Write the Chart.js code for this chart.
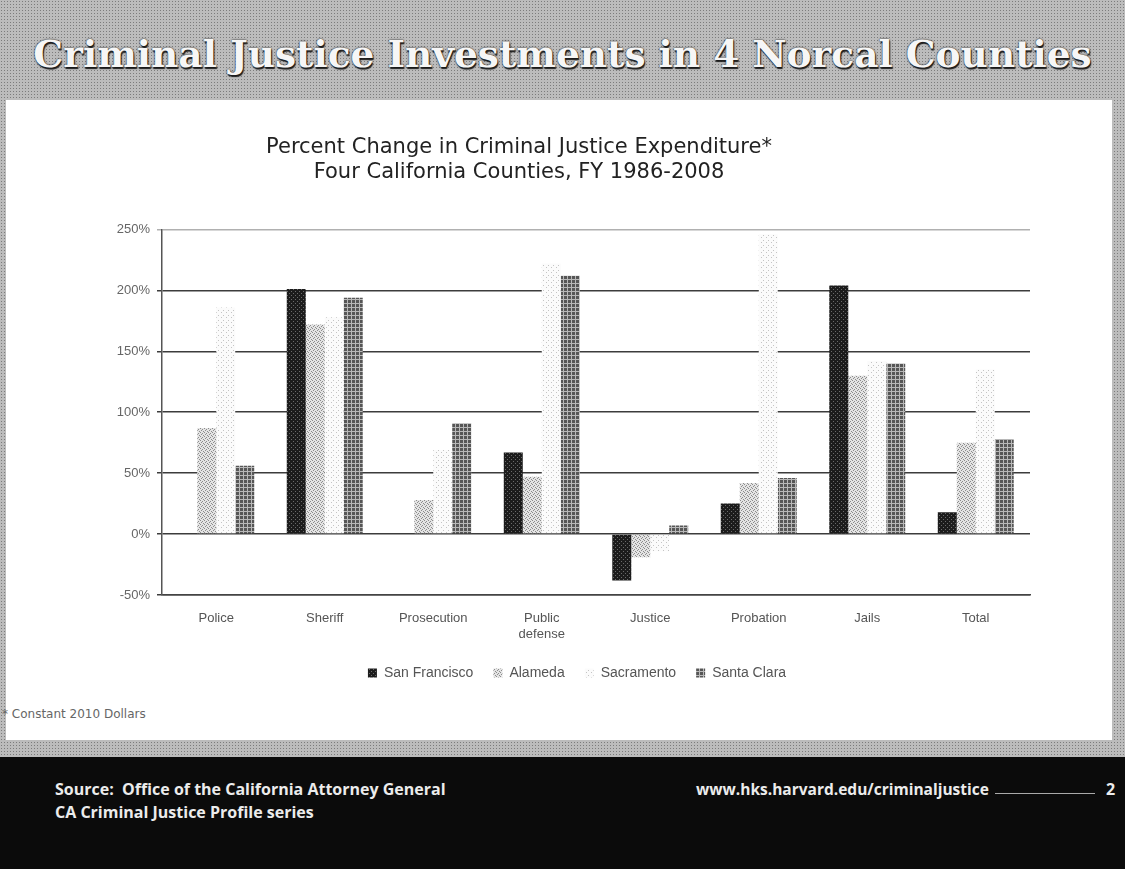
<!DOCTYPE html>
<html>
<head>
<meta charset="utf-8">
<script src="https://cdn.jsdelivr.net/npm/chart.js@4.4.0/dist/chart.umd.min.js"></script>
<style>
  html, body { margin: 0; padding: 0; }
  body {
    width: 1125px; height: 869px; position: relative; overflow: hidden;
    background-color: #bcbcbc;
    background-image: radial-gradient(#7c7c7c 0.6px, transparent 0.9px);
    background-size: 3px 3px;
    font-family: 'DejaVu Sans', sans-serif;
  }
  #slideTitle {
    position: absolute; left: 0; top: 32px; width: 1125px; text-align: center;
    font: bold 37.5px 'DejaVu Serif', serif; color: #f6f6f6;
    text-shadow: 0 0 2px #000, 1px 2px 1px #222;
  }
  #panel { position: absolute; left: 6px; top: 100px; width: 1106px; height: 640px; background: #fff; }
  #chartBox { position: absolute; left: 8px; top: 100px; }
  #note { position: absolute; left: 2px; top: 707px; font-size: 12px; color: #666; }
  #footer { position: absolute; left: 0; top: 757px; width: 1125px; height: 112px; background: #0b0b0b; }
  .foot { position: absolute; font: bold 16px 'Open Sans', sans-serif; color: #ececec; white-space: nowrap; }
  #rule { position: absolute; left: 995px; top: 793px; width: 100px; height: 1px; background: #aaa; }
</style>
</head>
<body>
<div id="slideTitle">Criminal Justice Investments in 4 Norcal Counties</div>
<div id="panel"></div>
<div id="chartBox"><canvas id="spendChart" width="1104" height="600"></canvas></div>
<div id="note">* Constant 2010 Dollars</div>
<div id="footer"></div>
<div class="foot" style="left:55px; top:778px;">Source:&nbsp; Office of the California Attorney General</div>
<div class="foot" style="left:55px; top:801px;">CA Criminal Justice Profile series</div>
<div class="foot" style="left:696px; top:778px; font-size:15.5px;">www.hks.harvard.edu/criminaljustice</div>
<div id="rule"></div>
<div class="foot" style="left:1106px; top:778px;">2</div>

<script>
// percent change in criminal justice expenditure, FY 1986-2008
var categories = ['Police', 'Sheriff', 'Prosecution', ['Public', 'defense'], 'Justice', 'Probation', 'Jails', 'Total'];
var counties = ['San Francisco', 'Alameda', 'Sacramento', 'Santa Clara'];

var sanFrancisco = [null, 201, null, 67, -38, 25, 204, 18];
var alameda      = [87, 172, 28, 47, -19, 42, 130, 75];
var sacramento   = [186, 178, 69, 222, -14, 246, 142, 135];
var santaClara   = [56, 194, 91, 212, 7, 46, 140, 78];

var yTicks = [-50, 0, 50, 100, 150, 200, 250];


// scanned-look fills
function makePattern(size, bg, fg, pts) {
    var c = document.createElement('canvas');
    c.width = size; c.height = size;
    var g = c.getContext('2d');
    g.fillStyle = bg;
    g.fillRect(0, 0, size, size);
    g.fillStyle = fg;
    pts.forEach(function(p) { g.fillRect(p[0], p[1], p[2] || 1, p[3] || 1); });
    return g.createPattern(c, 'repeat');
}

var fills = [
    makePattern(4, '#1c1c1c', '#6a6a6a', [[1, 1], [3, 3]]),
    makePattern(4, '#e4e4e4', '#8c8c8c', [[0, 0], [2, 1], [1, 2], [3, 3]]),
    makePattern(5, '#fbfbfb', '#c4c4c4', [[0, 0], [3, 2]]),
    makePattern(4, '#565656', '#b8b8b8', [[0, 3, 4, 1], [3, 0, 1, 4]]),
];

var seriesData = [sanFrancisco, alameda, sacramento, santaClara];

// the legend sits right of centre in the original
var legendShift = {
    id: 'legendShift',
    afterLayout: function(chart) {
        chart.legend.left += 58;
        chart.legend.right += 58;
    },
};

var ctx = document.getElementById('spendChart').getContext('2d');

var spend_chart = new Chart(ctx, {
    type: 'bar',

    data: {
        labels: categories,
        datasets: counties.map(function(name, i) {
            return {
                label: name,
                data: seriesData[i],
                backgroundColor: fills[i],
                borderWidth: 0,
                categoryPercentage: 0.7,
                barPercentage: 1.0,
            };
        }),
    },

    plugins: [legendShift],

    options: {
        responsive: false,
        animation: false,
        layout: {padding: {left: 0, right: 82, top: 0, bottom: 10}},

        scales: {
            x: {
                grid: {display: false, drawTicks: false},
                border: {display: true, color: '#444', width: 1.5},
                ticks: {padding: 16, color: '#555', font: {size: 13}, maxRotation: 0},
                afterFit: function(s) { s.height = 51; },
            },
            y: {
                min: -50,
                max: 250,
                afterBuildTicks: function(s) { s.ticks = yTicks.map(function(v) { return {value: v}; }); },
                ticks: {
                    padding: 7, color: '#666', font: {size: 13},
                    callback: function(v) { return v + '%'; },
                },
                grid: {
                    color: function(c) { return c.tick && c.tick.value === 250 ? '#b0b0b0' : '#3c3c3c'; },
                    lineWidth: 1.5,
                    tickLength: 5,
                },
                border: {color: '#555', width: 1.5},
                afterFit: function(s) { s.width = 154; },
            },
        },

        plugins: {
            title: {
                display: true,
                text: ['Percent Change in Criminal Justice Expenditure*', 'Four California Counties, FY 1986-2008'],
                color: '#222',
                font: {size: 21, weight: 'normal', family: "'DejaVu Sans', sans-serif", lineHeight: 1.2},
                padding: {top: 35, bottom: 44},
            },
            legend: {
                position: 'bottom',
                labels: {boxWidth: 9, boxHeight: 9, padding: 20, color: '#555', font: {size: 14}},
            },
            tooltip: {enabled: false},
        },
    },
});
</script>
</body>
</html>
